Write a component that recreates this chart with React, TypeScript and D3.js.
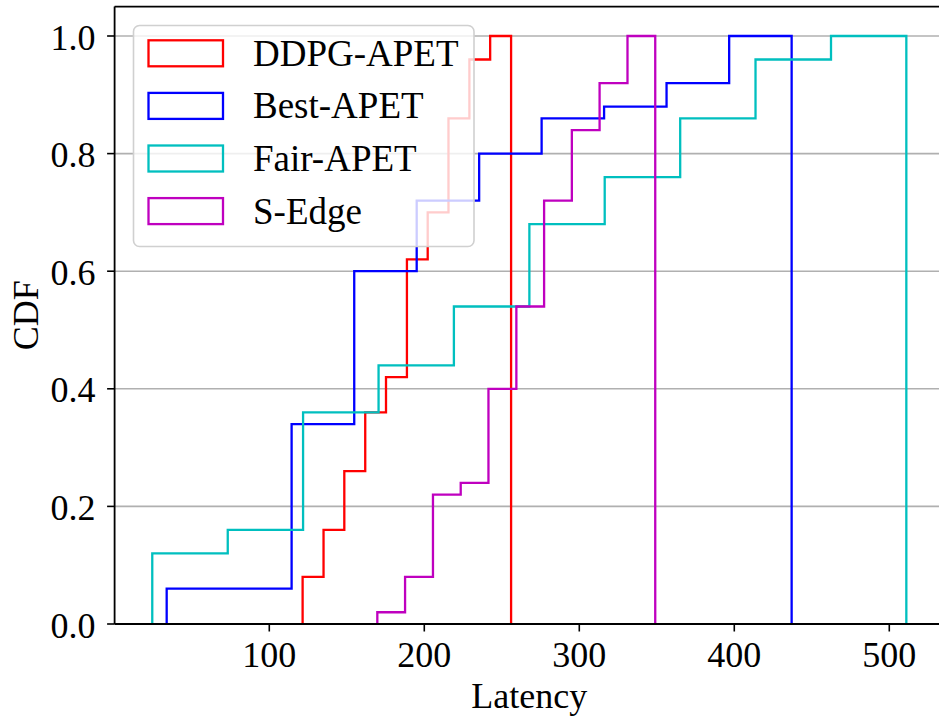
import React, { useEffect, useRef } from 'react';
import * as d3 from 'd3';

// bin edges (latency) and cumulative fractions
const ddpgEdges = [121.5, 135.0, 148.4, 161.9, 175.3, 188.8, 202.2, 215.6, 229.1, 242.5, 256.0];
const ddpgCdf = [0.08, 0.16, 0.26, 0.36, 0.42, 0.62, 0.70, 0.86, 0.96, 1.0];

const bestEdges = [33.8, 74.1, 114.4, 154.8, 195.1, 235.4, 275.7, 316.0, 356.3, 396.7, 437.0];
const bestCdf = [0.06, 0.06, 0.34, 0.60, 0.72, 0.80, 0.86, 0.88, 0.92, 1.0];

const fairEdges = [24.5, 73.2, 121.8, 170.5, 219.1, 267.8, 316.4, 365.1, 413.7, 462.4, 511.0];
const fairCdf = [0.12, 0.16, 0.36, 0.44, 0.54, 0.68, 0.76, 0.86, 0.96, 1.0];

const sedgeEdges = [169.7, 187.6, 205.6, 223.5, 241.4, 259.4, 277.3, 295.2, 313.1, 331.1, 349.0];
const sedgeCdf = [0.02, 0.08, 0.22, 0.24, 0.40, 0.54, 0.72, 0.84, 0.92, 1.0];

const seriesNames = ['DDPG-APET', 'Best-APET', 'Fair-APET', 'S-Edge'];
const seriesColors = ['#ff0000', '#0000ff', '#00bfbf', '#bf00bf'];
const xTicks = [100, 200, 300, 400, 500];
const yTicks = [0, 0.2, 0.4, 0.6, 0.8, 1.0];

const W = 939;
const H = 717;
const FONT = '"Liberation Serif", "Times New Roman", serif';

export default function App() {
  const ref = useRef<SVGSVGElement>(null);

  useEffect(() => {
    const svg = d3.select(ref.current);
    svg.selectAll('*').remove();

    const left = 114.6, right = 944, top = 6.6, bottom = 624;
    const x = d3.scaleLinear().domain([0.2, 535.3]).range([left, right]);
    const y = d3.scaleLinear().domain([0, 1.05]).range([bottom, top]);

    svg.append('defs').append('clipPath').attr('id', 'plot-clip')
      .append('rect')
      .attr('x', left).attr('y', top)
      .attr('width', right - left).attr('height', bottom - top);

    // horizontal grid
    svg.append('g').selectAll('line').data(yTicks).join('line')
      .attr('x1', left).attr('x2', right)
      .attr('y1', d => y(d)).attr('y2', d => y(d))
      .attr('stroke', '#b0b0b0').attr('stroke-width', 1.6);

    const all = [
      { edges: ddpgEdges, cdf: ddpgCdf },
      { edges: bestEdges, cdf: bestCdf },
      { edges: fairEdges, cdf: fairCdf },
      { edges: sedgeEdges, cdf: sedgeCdf },
    ];

    const line = d3.line<[number, number]>()
      .x(d => x(d[0]))
      .y(d => y(d[1]))
      .curve(d3.curveStepAfter);

    const plot = svg.append('g').attr('clip-path', 'url(#plot-clip)');
    all.forEach((s, i) => {
      const pts: [number, number][] = [[s.edges[0], 0]];
      s.cdf.forEach((c, j) => pts.push([s.edges[j], c]));
      const last = s.edges[s.edges.length - 1];
      pts.push([last, s.cdf[s.cdf.length - 1]]);
      pts.push([last, 0]);
      plot.append('path')
        .attr('d', line(pts))
        .attr('fill', 'none')
        .attr('stroke', seriesColors[i])
        .attr('stroke-width', 2.3)
        .attr('stroke-linejoin', 'miter');
    });

    // spines
    svg.append('line').attr('x1', left).attr('x2', left).attr('y1', top).attr('y2', bottom)
      .attr('stroke', '#000').attr('stroke-width', 1.8);
    svg.append('line').attr('x1', left).attr('x2', right).attr('y1', bottom).attr('y2', bottom)
      .attr('stroke', '#000').attr('stroke-width', 1.8);
    svg.append('line').attr('x1', left).attr('x2', right).attr('y1', top).attr('y2', top)
      .attr('stroke', '#000').attr('stroke-width', 1.8);

    // x axis
    const xa = svg.append('g');
    xa.selectAll('line').data(xTicks).join('line')
      .attr('x1', d => x(d)).attr('x2', d => x(d))
      .attr('y1', bottom).attr('y2', bottom + 7.5)
      .attr('stroke', '#000').attr('stroke-width', 1.6);
    xa.selectAll('text').data(xTicks).join('text')
      .attr('x', d => x(d)).attr('y', bottom + 42.5)
      .attr('text-anchor', 'middle')
      .attr('font-family', FONT).attr('font-size', 36)
      .text(d => String(d));

    // y axis
    const ya = svg.append('g');
    ya.selectAll('line').data(yTicks).join('line')
      .attr('x1', left - 7.5).attr('x2', left)
      .attr('y1', d => y(d)).attr('y2', d => y(d))
      .attr('stroke', '#000').attr('stroke-width', 1.6);
    ya.selectAll('text').data(yTicks).join('text')
      .attr('x', left - 19).attr('y', d => y(d) + 13.5)
      .attr('text-anchor', 'end')
      .attr('font-family', FONT).attr('font-size', 36)
      .text(d => d.toFixed(1));

    svg.append('text')
      .attr('x', (left + right) / 2).attr('y', 708)
      .attr('text-anchor', 'middle')
      .attr('font-family', FONT).attr('font-size', 36)
      .text('Latency');

    svg.append('text')
      .attr('transform', `translate(38,${(top + bottom) / 2}) rotate(-90)`)
      .attr('text-anchor', 'middle')
      .attr('font-family', FONT).attr('font-size', 36)
      .text('CDF');

    // legend
    const lg = svg.append('g');
    lg.append('rect')
      .attr('x', 133.5).attr('y', 25.5).attr('width', 340.5).attr('height', 221)
      .attr('rx', 6).attr('ry', 6)
      .attr('fill', 'rgba(255,255,255,0.8)')
      .attr('stroke', '#d0d0d0').attr('stroke-width', 1.6);
    seriesNames.forEach((name, i) => {
      const cy = 53.3 + i * 52.6;
      lg.append('rect')
        .attr('x', 148.5).attr('y', cy - 13).attr('width', 74.5).attr('height', 26)
        .attr('fill', 'none').attr('stroke', seriesColors[i]).attr('stroke-width', 2.3);
      lg.append('text')
        .attr('x', 253).attr('y', cy + 12.5)
        .attr('font-family', FONT).attr('font-size', 37)
        .text(name);
    });
  }, []);

  return (
    <svg ref={ref} width={W} height={H}
      style={{ position: 'absolute', left: 0, top: 0, background: '#fff' }} />
  );
}
